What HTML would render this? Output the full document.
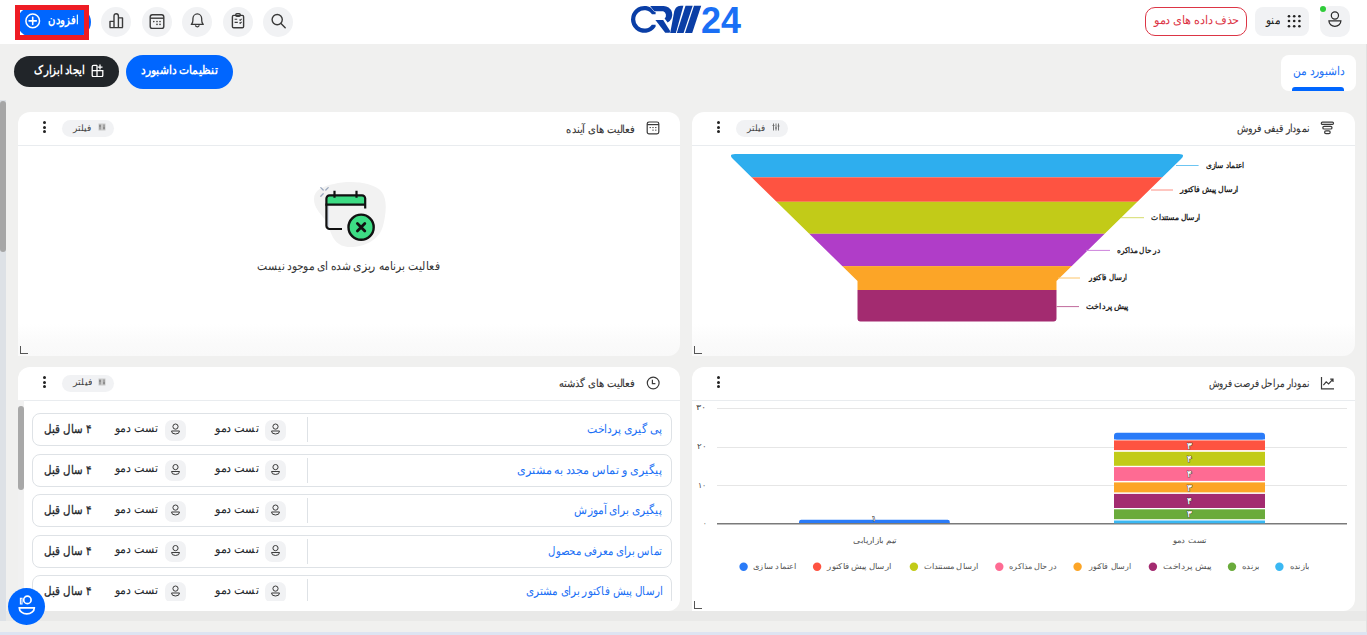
<!DOCTYPE html>
<html lang="fa">
<head>
<meta charset="utf-8">
<style>
*{box-sizing:border-box;margin:0;padding:0}
html,body{width:1367px;height:635px;overflow:hidden}
body{position:relative;background:#f0f0ef;font-family:"Liberation Sans",sans-serif;color:#212529}
.abs{position:absolute}
.t{position:absolute;white-space:nowrap;direction:rtl;line-height:1;transform-origin:100% 50%}
.circ{position:absolute;top:7px;width:30px;height:30px;border-radius:50%;background:#f1f2f4}
.circ svg{position:absolute;left:0;top:0}
.card{position:absolute;background:#fff;border-radius:12px 12px 12px 0}
.hdl{position:absolute;width:8px;height:8px;border-left:1.2px solid #555;border-bottom:1.2px solid #555}
.div{position:absolute;height:1px;background:#e9ecef}
.chip{position:absolute;width:52px;height:17px;border-radius:9px;background:#f1f2f4}
.dots{position:absolute;width:3px;height:11px}
.dots i{position:absolute;left:0;width:3px;height:3px;border-radius:50%;background:#222}
.row{position:absolute;left:32px;width:640px;height:33px;border:1px solid #dee2e6;border-radius:8px;background:#fff}
.av{position:absolute;width:21px;height:21px;border-radius:7px;background:#f1f2f4}
.vd{position:absolute;width:1px;height:25px;background:#dee2e6}
</style>
</head>
<body>
<div class="abs" style="left:0;top:0;width:1367px;height:44px;background:#fff"></div>
<!-- add button -->
<div class="abs" style="left:17px;top:7px;width:74px;height:30px;border-radius:15px;background:#0066ff"></div>
<svg class="abs" style="left:24px;top:12px" width="18" height="18" viewBox="0 0 18 18"><circle cx="8.7" cy="8.9" r="6.8" fill="none" stroke="#fff" stroke-width="1.5"/><path d="M8.7 5.3v7.2M5.1 8.9h7.2" stroke="#fff" stroke-width="1.6" stroke-linecap="round"/></svg>
<div class="abs" style="left:15px;top:5px;width:74px;height:35px;border:5px solid #ee1c24"></div>
<!-- header icon circles -->
<div class="circ" style="left:101px"><svg width="30" height="30" viewBox="0 0 30 30" fill="none" stroke="#3a3a3a" stroke-width="1.4" stroke-linejoin="round"><path d="M9 20.6V14.4h4v6.2M13 20.6V8.9a2.2 2.2 0 0 1 4.4 0V20.6M17.4 20.6V10.9h4.1v9.7M8.6 20.6h13.2"/></svg></div>
<div class="circ" style="left:142px"><svg width="30" height="30" viewBox="0 0 30 30" fill="none" stroke="#3a3a3a" stroke-width="1.4"><rect x="8.2" y="7.8" width="13.6" height="13.6" rx="2.2"/><path d="M8.2 11.2h13.6"/><g fill="#3a3a3a" stroke="none"><circle cx="11.8" cy="14.6" r=".8"/><circle cx="15" cy="14.6" r=".8"/><circle cx="18" cy="14.6" r=".8"/><circle cx="15" cy="17.4" r=".8"/><circle cx="18" cy="17.4" r=".8"/></g></svg></div>
<div class="circ" style="left:182px"><svg width="30" height="30" viewBox="0 0 30 30" fill="none" stroke="#3a3a3a" stroke-width="1.3" stroke-linejoin="round"><path d="M9.3 17.4c1.3-1 1.6-2.4 1.6-4.2v-1.4a4.4 4.9 0 0 1 8.8 0v1.4c0 1.8.3 3.2 1.6 4.2z"/><path d="M13.5 18.3a1.8 1.5 0 0 0 3.6 0"/></svg></div>
<div class="circ" style="left:223px"><svg style="top:-0.8px" width="30" height="30" viewBox="0 0 30 30" fill="none" stroke="#3a3a3a" stroke-width="1.4" stroke-linejoin="round"><rect x="9.4" y="9.4" width="11.2" height="12.4" rx="1.3"/><rect x="12.8" y="7.6" width="4.4" height="2.6" rx="1"/><path d="M11.6 13.3h2.6M11.6 16.4h3.2M16.4 13.6l.8.7 1.4-1.4M16.4 16.6l.8.7 1.4-1.4" stroke-width="1.1"/></svg></div>
<div class="circ" style="left:263px"><svg width="30" height="30" viewBox="0 0 30 30" fill="none" stroke="#3a3a3a" stroke-width="1.4" stroke-linecap="round"><circle cx="14.2" cy="12.6" r="5.1"/><path d="M18 16.4l4.2 4.4"/></svg></div>
<!-- logo -->
<svg class="abs" style="left:620px;top:0" width="130" height="44" viewBox="620 0 130 44">
 <g fill="#0a3ea6" stroke="#fff" stroke-width="1" paint-order="stroke fill">
  <path d="M655.6 12.04A13.4 13.4 0 1 0 655.6 26.76V24.7H651.86A9.15 9.15 0 1 1 651.96 14.25H655.6Z"/>
  <path d="M650.2 6H663A8.7 8.7 0 0 1 667.6 22.4L664.6 18.6A4.4 4.4 0 0 0 663.2 11.3H654.2Z"/>
  <path d="M655.4 20.1H663.2L671.2 32.8H665.2Z"/>
  <path d="M670.2 32.9H675.9L683.4 5.7H680.8C676.5 5.9 675 8.5 674.2 11.6Z"/>
  <path d="M676.8 32.9H683.6L692.7 5.7H685.5Z"/>
  <path d="M685 32.9H692.2L701.2 5.7H694Z"/>
 </g>
 <text x="701" y="32.8" font-family="Liberation Sans" font-weight="bold" font-size="37" fill="#1a6ff5" textLength="40" lengthAdjust="spacingAndGlyphs">24</text>
</svg>
<!-- right header -->
<div class="abs" style="left:1145px;top:7px;width:102px;height:29px;border:1px solid #dc3545;border-radius:10px"></div>
<div class="abs" style="left:1255px;top:7px;width:54px;height:29px;border-radius:8px;background:#f1f2f4"></div>
<svg class="abs" style="left:1287.3px;top:14px" width="16" height="14" viewBox="0 0 16 14" fill="#222"><circle cx="2" cy="2.2" r="1.3"/><circle cx="7.2" cy="2.2" r="1.3"/><circle cx="12.4" cy="2.2" r="1.3"/><circle cx="2" cy="7" r="1.3"/><circle cx="7.2" cy="7" r="1.3"/><circle cx="12.4" cy="7" r="1.3"/><circle cx="2" cy="12.2" r="1.3"/><circle cx="7.2" cy="12.2" r="1.3"/><circle cx="12.4" cy="12.2" r="1.3"/></svg>
<div class="abs" style="left:1320px;top:6px;width:30px;height:31px;border-radius:10px;background:#f1f2f4"></div>
<svg class="abs" style="left:1320px;top:6px" width="30" height="31" viewBox="0 0 30 31" fill="none" stroke="#2a2a2a" stroke-width="1.2"><circle cx="14.9" cy="9.5" r="3.6"/><path d="M8.9 14.8h12a6 5.6 0 0 1-12 0z"/></svg>
<div class="abs" style="left:1320px;top:6px;width:6px;height:6px;border-radius:50%;background:#2fcc3a"></div>
<!-- row 2 -->
<div class="abs" style="left:14px;top:56px;width:105px;height:31px;border-radius:16px;background:#212529"></div>
<svg class="abs" style="left:91px;top:63.5px" width="13" height="13" viewBox="0 0 13 13" fill="none" stroke="#fff" stroke-width="1.3"><path d="M6 1.3H2.6a1.4 1.4 0 0 0-1.4 1.4v8.6a1.4 1.4 0 0 0 1.4 1.4h7.8a1.4 1.4 0 0 0 1.4-1.4V6.6H1.2M6 1.3V12.7"/><path d="M9 0.6v5M6.6 3.1h4.9"/></svg>
<div class="abs" style="left:126px;top:55px;width:107px;height:34px;border-radius:17px;background:#0066ff"></div>
<div class="abs" style="left:1281px;top:55px;width:75px;height:36px;border-radius:8px;background:#fff"></div>
<div class="abs" style="left:1292px;top:87px;width:52px;height:4px;border-radius:3px 3px 0 0;background:#0066ff"></div>
<!-- page scrollbar / bottom strips -->
<div class="abs" style="left:0;top:100px;width:6px;height:521px;background:#dde1e6"></div>
<div class="abs" style="left:0;top:101px;width:6px;height:151px;border-radius:3px;background:#a6a6a6"></div>
<div class="abs" style="left:6px;top:611px;width:1361px;height:10px;background:#e9e9e8"></div>
<div class="abs" style="left:0;top:632px;width:1367px;height:3px;background:#dde4f2"></div>
<div class="abs" style="left:1366px;top:44px;width:1px;height:588px;background:#e2e2e2"></div>

<!-- cards -->
<div class="card" style="left:18px;top:112px;width:662px;height:244px;background:linear-gradient(#fff 212px,#fafafa 232px,#f9f9f9)"></div>
<div class="card" style="left:692px;top:112px;width:663px;height:244px;background:linear-gradient(#fff 212px,#fafafa 232px,#f9f9f9)"></div>
<div class="card" style="left:18px;top:367px;width:662px;height:244px"></div>
<div class="card" style="left:692px;top:367px;width:663px;height:244px"></div>
<div class="div" style="left:18px;top:145px;width:662px"></div>
<div class="div" style="left:692px;top:145px;width:663px"></div>
<div class="div" style="left:18px;top:400px;width:662px"></div>
<div class="div" style="left:692px;top:400px;width:663px"></div>
<div class="hdl" style="left:20px;top:346px"></div>
<div class="hdl" style="left:694px;top:346px"></div>
<div class="hdl" style="left:694px;top:601px"></div>
<!-- card header widgets -->
<div class="dots" style="left:42.5px;top:121px"><i style="top:0"></i><i style="top:4.5px"></i><i style="top:9px"></i></div>
<div class="dots" style="left:716.5px;top:121px"><i style="top:0"></i><i style="top:4.5px"></i><i style="top:9px"></i></div>
<div class="dots" style="left:42.5px;top:376px"><i style="top:0"></i><i style="top:4.5px"></i><i style="top:9px"></i></div>
<div class="dots" style="left:716.5px;top:376px"><i style="top:0"></i><i style="top:4.5px"></i><i style="top:9px"></i></div>
<div class="chip" style="left:62px;top:120px"></div>
<div class="chip" style="left:736px;top:120px"></div>
<div class="chip" style="left:62px;top:375px"></div>
<svg class="abs" style="left:98px;top:123px" width="8" height="8" viewBox="0 0 8 8"><rect x="0.5" y="0.5" width="7" height="7" fill="#c9c9c9"/><path d="M2 1.5v5M6 1.5v5M1 3h2M5 5h2" stroke="#777" stroke-width=".9"/></svg>
<svg class="abs" style="left:98px;top:378px" width="8" height="8" viewBox="0 0 8 8"><rect x="0.5" y="0.5" width="7" height="7" fill="#c9c9c9"/><path d="M2 1.5v5M6 1.5v5M1 3h2M5 5h2" stroke="#777" stroke-width=".9"/></svg>
<svg class="abs" style="left:772px;top:123px" width="8" height="8" viewBox="0 0 8 8"><path d="M1.5 0.5v7M4 0.5v7M6.5 0.5v7M0.5 2.5h2M3 5h2M5.5 3h2" stroke="#666" stroke-width=".9"/></svg>
<!-- card header icons -->
<svg class="abs" style="left:646px;top:121px" width="14" height="14" viewBox="0 0 14 14" fill="none" stroke="#3a3a3a" stroke-width="1.2"><rect x="1.2" y="1" width="11.6" height="11.8" rx="1.8"/><path d="M1.2 3.6h11.6"/><g fill="#3a3a3a" stroke="none"><rect x="3.6" y="6" width="1.2" height="1.1"/><rect x="6.4" y="6" width="1.2" height="1.1"/><rect x="9.2" y="6" width="1.2" height="1.1"/><rect x="6.4" y="8.6" width="1.2" height="1.1"/><rect x="9.2" y="8.6" width="1.2" height="1.1"/></g></svg>
<svg class="abs" style="left:1320px;top:121px" width="15" height="14" viewBox="0 0 15 14" fill="none" stroke="#3a3a3a" stroke-width="1.2"><rect x="1.3" y="1.2" width="12.2" height="2.2" rx="1.1"/><rect x="2.8" y="5.4" width="9.2" height="2.6" rx="1.3"/><rect x="4.6" y="9.8" width="5.6" height="2.8" rx="1.4"/></svg>
<svg class="abs" style="left:646px;top:376px" width="14" height="14" viewBox="0 0 14 14" fill="none" stroke="#3a3a3a" stroke-width="1.2"><circle cx="7.2" cy="7" r="5.9"/><path d="M6.4 3.8v3.9h3"/></svg>
<svg class="abs" style="left:1320px;top:376px" width="15" height="14" viewBox="0 0 15 14" fill="none" stroke="#3a3a3a" stroke-width="1.2"><path d="M1.5 1v11.8h12.5"/><path d="M3.4 9.2l2.8-3.3 2.4 2 4.2-4.6M10.2 3.1h2.8v2.8"/></svg>

<!-- empty state illustration -->
<svg class="abs" style="left:310px;top:180px" width="80" height="72" viewBox="0 0 80 72">
 <path d="M24 4C40 0 62 2 71 11C78 19 76 34 73 46C69 60 55 67 40 67C27 67 22 58 19 47C16 37 4 31 4 19C4 10 13 6 24 4Z" fill="#f2f2f2"/>
 <path d="M19.6 15.4h32.4a3.2 3.2 0 0 1 3.2 3.2v5.6H16.4v-5.6a3.2 3.2 0 0 1 3.2-3.2z" fill="#3ddc84"/>
 <path d="M18 25.5v22.5" stroke="#d5dbe5" stroke-width="2.2"/>
 <path d="M32 49H19.6a3.2 3.2 0 0 1-3.2-3.2V18.6a3.2 3.2 0 0 1 3.2-3.2h32.4a3.2 3.2 0 0 1 3.2 3.2v10" fill="none" stroke="#111" stroke-width="2.2"/>
 <path d="M15.4 24.7H55" stroke="#111" stroke-width="2.2"/>
 <path d="M24.5 10.8v7M46.5 10.8v7" stroke="#111" stroke-width="2.2"/>
 <circle cx="51.1" cy="47.2" r="12.6" fill="#3ddc84" stroke="#111" stroke-width="2.4"/>
 <path d="M47.4 43.5l7.4 7.4M54.8 43.5l-7.4 7.4" stroke="#111" stroke-width="2.8" stroke-linecap="round"/>
 <path d="M10.8 7.6l2.4 2.4M18.2 7.6l-2.4 2.4M10.8 16.2l2.4-2.4" stroke="#9aa7bd" stroke-width="1.3" stroke-linecap="round"/>
</svg>
<!-- funnel -->
<svg class="abs" style="left:0;top:0" width="1367" height="635" viewBox="0 0 1367 635">
 <defs><clipPath id="fc"><path d="M735,154 H1179 Q1186,154 1181,159 L1056.5,281 V318.5 Q1056.5,321.5 1053.5,321.5 H860.5 Q857.5,321.5 857.5,318.5 V281 L733,159 Q728,154 735,154 Z"/></clipPath></defs>
 <g clip-path="url(#fc)">
  <rect x="700" y="150" width="520" height="27.3" fill="#2eaeee"/>
  <rect x="700" y="177.3" width="520" height="24.5" fill="#fe5341"/>
  <rect x="700" y="201.8" width="520" height="32" fill="#c2cb18"/>
  <rect x="700" y="233.8" width="520" height="32.3" fill="#b03dc8"/>
  <rect x="700" y="266.1" width="520" height="23.9" fill="#fca527"/>
  <rect x="700" y="290" width="520" height="35" fill="#a32b70"/>
 </g>
 <g stroke-width="1">
  <path d="M1176 165.5H1198.6" stroke="#6cc5f2"/>
  <path d="M1151 190H1173" stroke="#fd8e82"/>
  <path d="M1121 217.7H1144" stroke="#d6dc6a"/>
  <path d="M1086 250.4H1110" stroke="#cd82dc"/>
  <path d="M1058 278H1080" stroke="#fcc56a"/>
  <path d="M1056.5 306.6H1079" stroke="#c06a9c"/>
 </g>
 <!-- bar chart -->
 <g stroke="#e6e6e6" stroke-width="1">
  <path d="M717 408.5H1347M717 447.5H1347M717 485.5H1347"/>
 </g>
 <path d="M717 523.8H1347" stroke="#7a7a7a" stroke-width="1.5"/>
 <path d="M799 523V522a2.2 2.2 0 0 1 2.2-2.2H947.6a2.2 2.2 0 0 1 2.2 2.2V523Z" fill="#2a7bf8"/>
 <rect x="1114" y="432.8" width="151" height="6.6" rx="3" fill="#2a7bf8"/>
 <rect x="1114" y="436" width="151" height="3.4" fill="#2a7bf8"/>
 <rect x="1114" y="440.4" width="151" height="9.7" fill="#fe5341"/>
 <rect x="1114" y="451.8" width="151" height="14" fill="#c2cb18"/>
 <rect x="1114" y="467.1" width="151" height="13.8" fill="#fe6b93"/>
 <rect x="1114" y="482.4" width="151" height="10" fill="#fca527"/>
 <rect x="1114" y="493.9" width="151" height="14.1" fill="#a32b70"/>
 <rect x="1114" y="509.3" width="151" height="9.9" fill="#6aab3b"/>
 <rect x="1114" y="520.5" width="151" height="2.8" fill="#3ab8f3"/>
 <g font-family="Liberation Sans" font-size="9" font-weight="bold" fill="#fff" stroke="#222" stroke-width="0.8" paint-order="stroke" text-anchor="middle">
  <text x="1189.5" y="448.6">۳</text>
  <text x="1189.5" y="462">۴</text>
  <text x="1189.5" y="477.2">۴</text>
  <text x="1189.5" y="490.6">۳</text>
  <text x="1189.5" y="504.2">۴</text>
  <text x="1189.5" y="517.4">۳</text>
  <text x="874.3" y="521.4" font-size="7" fill="#fff">۱</text>
 </g>
 <g>
  <circle cx="743.6" cy="566.8" r="4.2" fill="#2a7bf8"/>
  <circle cx="817.1" cy="566.8" r="4.2" fill="#fe5341"/>
  <circle cx="913.9" cy="566.8" r="4.2" fill="#c2cb18"/>
  <circle cx="999.3" cy="566.8" r="4.2" fill="#fe6b93"/>
  <circle cx="1077.6" cy="566.8" r="4.2" fill="#fca527"/>
  <circle cx="1152.9" cy="566.8" r="4.2" fill="#a32b70"/>
  <circle cx="1232" cy="566.8" r="4.2" fill="#6aab3b"/>
  <circle cx="1279.4" cy="566.8" r="4.2" fill="#3ab8f3"/>
 </g>
</svg>

<!-- card 3 rows -->
<div class="abs" style="left:18px;top:400px;width:6px;height:201px;background:#f1f1f1"></div>
<div class="abs" style="left:18px;top:406px;width:5.5px;height:84px;border-radius:3px;background:#a8a8a8"></div>
<div class="abs" style="left:18px;top:401px;width:662px;height:200px;overflow:hidden">
 <div class="row" style="left:14px;top:12px"><div class="vd" style="left:273.5px;top:3px"></div><div class="av" style="left:232px;top:5.5px"></div><div class="av" style="left:132px;top:5.5px"></div></div>
 <div class="row" style="left:14px;top:52.5px"><div class="vd" style="left:273.5px;top:3px"></div><div class="av" style="left:232px;top:5.5px"></div><div class="av" style="left:132px;top:5.5px"></div></div>
 <div class="row" style="left:14px;top:93px"><div class="vd" style="left:273.5px;top:3px"></div><div class="av" style="left:232px;top:5.5px"></div><div class="av" style="left:132px;top:5.5px"></div></div>
 <div class="row" style="left:14px;top:133.5px"><div class="vd" style="left:273.5px;top:3px"></div><div class="av" style="left:232px;top:5.5px"></div><div class="av" style="left:132px;top:5.5px"></div></div>
 <div class="row" style="left:14px;top:174px"><div class="vd" style="left:273.5px;top:3px"></div><div class="av" style="left:232px;top:5.5px"></div><div class="av" style="left:132px;top:5.5px"></div></div>
</div>
<svg class="abs" style="left:0;top:0" width="1367" height="635" viewBox="0 0 1367 635" fill="none" stroke="#3a3a3a" stroke-width="1">
 <defs><g id="pi"><circle cx="0" cy="-3.2" r="2.6"/><path d="M-4 1.2h8a4 3 0 0 1-8 0z"/></g></defs>
 <clipPath id="rc"><rect x="18" y="401" width="662" height="200"/></clipPath>
 <g clip-path="url(#rc)">
  <use href="#pi" x="275.5" y="429.8"/><use href="#pi" x="175.5" y="429.8"/>
  <use href="#pi" x="275.5" y="470.3"/><use href="#pi" x="175.5" y="470.3"/>
  <use href="#pi" x="275.5" y="510.8"/><use href="#pi" x="175.5" y="510.8"/>
  <use href="#pi" x="275.5" y="551.3"/><use href="#pi" x="175.5" y="551.3"/>
  <use href="#pi" x="275.5" y="591.8"/><use href="#pi" x="175.5" y="591.8"/>
 </g>
</svg>
<div class="t" id="t0" style="right:1289.00px;top:14.10px;font-size:12px;font-weight:bold;color:#fff;transform:scaleX(0.8333);">افزودن</div>
<div class="t" id="t1" style="right:128.00px;top:14.10px;font-size:12px;font-weight:normal;color:#dc3545;transform:scaleX(0.9443);">حذف داده های دمو</div>
<div class="t" id="t2" style="right:87.50px;top:13.60px;font-size:12px;font-weight:normal;color:#222;transform:scaleX(0.8812);">منو</div>
<div class="t" id="t3" style="right:1283.00px;top:64.10px;font-size:12px;font-weight:bold;color:#fff;transform:scaleX(0.8425);">ایجاد ابزارک</div>
<div class="t" id="t4" style="right:1150.00px;top:63.90px;font-size:12px;font-weight:bold;color:#fff;transform:scaleX(0.8905);">تنظیمات داشبورد</div>
<div class="t" id="t5" style="right:23.00px;top:65.10px;font-size:12px;font-weight:normal;color:#1a6ff5;transform:scaleX(0.8894);">داشبورد من</div>
<div class="t" id="t6" style="right:733.00px;top:123.50px;font-size:11px;font-weight:normal;color:#333;transform:scaleX(0.9052);-webkit-text-stroke:0.12px #333;">فعالیت های آینده</div>
<div class="t" id="t7" style="right:1276.00px;top:123.60px;font-size:9px;font-weight:normal;color:#444;transform:scaleX(1.0000);">فیلتر</div>
<div class="t" id="t8" style="right:58.00px;top:123.30px;font-size:11px;font-weight:normal;color:#333;transform:scaleX(0.8418);-webkit-text-stroke:0.12px #333;">نمودار قیفی فروش</div>
<div class="t" id="t9" style="right:602.00px;top:123.60px;font-size:9px;font-weight:normal;color:#444;transform:scaleX(0.9778);">فیلتر</div>
<div class="t" id="t10" style="right:732.50px;top:378.00px;font-size:11px;font-weight:normal;color:#333;transform:scaleX(0.9083);-webkit-text-stroke:0.12px #333;">فعالیت های گذشته</div>
<div class="t" id="t11" style="right:1275.20px;top:377.60px;font-size:9px;font-weight:normal;color:#444;transform:scaleX(1.0556);">فیلتر</div>
<div class="t" id="t12" style="right:58.00px;top:378.10px;font-size:11px;font-weight:normal;color:#333;transform:scaleX(0.7863);-webkit-text-stroke:0.12px #333;">نمودار مراحل فرصت فروش</div>
<div class="t" id="t13" style="right:927.00px;top:259.60px;font-size:12px;font-weight:normal;color:#333;transform:scaleX(0.8950);">فعالیت برنامه ریزی شده ای موجود نیست</div>
<div class="t" id="t14" style="right:123.00px;top:161.70px;font-size:8px;font-weight:bold;color:#222;transform:scaleX(0.9216);">اعتماد سازی</div>
<div class="t" id="t15" style="right:129.00px;top:186.20px;font-size:8px;font-weight:bold;color:#222;transform:scaleX(0.9756);">ارسال پیش فاکتور</div>
<div class="t" id="t16" style="right:167.00px;top:214.20px;font-size:8px;font-weight:bold;color:#222;transform:scaleX(0.9381);">ارسال مستندات</div>
<div class="t" id="t17" style="right:207.00px;top:246.70px;font-size:8px;font-weight:bold;color:#222;transform:scaleX(0.9062);">در حال مذاکره</div>
<div class="t" id="t18" style="right:240.00px;top:274.20px;font-size:8px;font-weight:bold;color:#222;transform:scaleX(0.8789);">ارسال فاکتور</div>
<div class="t" id="t19" style="right:239.00px;top:302.70px;font-size:8px;font-weight:bold;color:#222;transform:scaleX(1.0186);">پیش پرداخت</div>
<div class="t" id="t20" style="right:705.00px;top:423.10px;font-size:12px;font-weight:normal;color:#1a6ff5;transform:scaleX(0.8987);">پی گیری پرداخت</div>
<div class="t" id="t21" style="right:1109.00px;top:421.80px;font-size:12px;font-weight:normal;color:#212529;transform:scaleX(0.9278);">تست دمو</div>
<div class="t" id="t22" style="right:1209.80px;top:421.80px;font-size:12px;font-weight:normal;color:#212529;transform:scaleX(0.9149);">تست دمو</div>
<div class="t" id="t23" style="right:1276.70px;top:423.10px;font-size:12px;font-weight:normal;color:#212529;transform:scaleX(0.8560);-webkit-text-stroke:0.3px #212529;">۴ سال قبل</div>
<div class="t" id="t24" style="right:705.00px;top:463.60px;font-size:12px;font-weight:normal;color:#1a6ff5;transform:scaleX(0.9217);">پیگیری و تماس مجدد به مشتری</div>
<div class="t" id="t25" style="right:1109.00px;top:462.30px;font-size:12px;font-weight:normal;color:#212529;transform:scaleX(0.9278);">تست دمو</div>
<div class="t" id="t26" style="right:1209.80px;top:462.30px;font-size:12px;font-weight:normal;color:#212529;transform:scaleX(0.9149);">تست دمو</div>
<div class="t" id="t27" style="right:1276.70px;top:463.60px;font-size:12px;font-weight:normal;color:#212529;transform:scaleX(0.8560);-webkit-text-stroke:0.3px #212529;">۴ سال قبل</div>
<div class="t" id="t28" style="right:705.00px;top:504.10px;font-size:12px;font-weight:normal;color:#1a6ff5;transform:scaleX(0.8848);">پیگیری برای آموزش</div>
<div class="t" id="t29" style="right:1109.00px;top:502.80px;font-size:12px;font-weight:normal;color:#212529;transform:scaleX(0.9278);">تست دمو</div>
<div class="t" id="t30" style="right:1209.80px;top:502.80px;font-size:12px;font-weight:normal;color:#212529;transform:scaleX(0.9149);">تست دمو</div>
<div class="t" id="t31" style="right:1276.70px;top:504.10px;font-size:12px;font-weight:normal;color:#212529;transform:scaleX(0.8560);-webkit-text-stroke:0.3px #212529;">۴ سال قبل</div>
<div class="t" id="t32" style="right:705.00px;top:544.60px;font-size:12px;font-weight:normal;color:#1a6ff5;transform:scaleX(0.8451);">تماس برای معرفی محصول</div>
<div class="t" id="t33" style="right:1109.00px;top:543.30px;font-size:12px;font-weight:normal;color:#212529;transform:scaleX(0.9278);">تست دمو</div>
<div class="t" id="t34" style="right:1209.80px;top:543.30px;font-size:12px;font-weight:normal;color:#212529;transform:scaleX(0.9149);">تست دمو</div>
<div class="t" id="t35" style="right:1276.70px;top:544.60px;font-size:12px;font-weight:normal;color:#212529;transform:scaleX(0.8560);-webkit-text-stroke:0.3px #212529;">۴ سال قبل</div>
<div class="t" id="t36" style="right:705.00px;top:585.10px;font-size:12px;font-weight:normal;color:#1a6ff5;transform:scaleX(0.8627);">ارسال پیش فاکتور برای مشتری</div>
<div class="t" id="t37" style="right:1109.00px;top:583.80px;font-size:12px;font-weight:normal;color:#212529;transform:scaleX(0.9278);">تست دمو</div>
<div class="t" id="t38" style="right:1209.80px;top:583.80px;font-size:12px;font-weight:normal;color:#212529;transform:scaleX(0.9149);">تست دمو</div>
<div class="t" id="t39" style="right:1276.70px;top:585.10px;font-size:12px;font-weight:normal;color:#212529;transform:scaleX(0.8560);-webkit-text-stroke:0.3px #212529;">۴ سال قبل</div>
<div class="t" id="t40" style="right:661.30px;top:404.40px;font-size:8px;font-weight:normal;color:#444;transform:scaleX(1.2125);">۳۰</div>
<div class="t" id="t41" style="right:661.30px;top:443.20px;font-size:8px;font-weight:normal;color:#444;transform:scaleX(1.0875);">۲۰</div>
<div class="t" id="t42" style="right:661.30px;top:481.60px;font-size:8px;font-weight:normal;color:#444;transform:scaleX(0.9625);">۱۰</div>
<div class="t" id="t43" style="right:661.30px;top:519.70px;font-size:8px;font-weight:normal;color:#444;transform:scaleX(0.8500);">۰</div>
<div class="t" id="t44" style="right:471.00px;top:536.70px;font-size:8px;font-weight:normal;color:#555;transform:scaleX(1.1246);">تیم بازاریابی</div>
<div class="t" id="t45" style="right:161.00px;top:536.70px;font-size:8px;font-weight:normal;color:#555;transform:scaleX(1.0725);">تست دمو</div>
<div class="t" id="t46" style="right:571.00px;top:563.20px;font-size:8px;font-weight:normal;color:#555;transform:scaleX(1.0428);">اعتماد سازی</div>
<div class="t" id="t47" style="right:476.00px;top:563.20px;font-size:8px;font-weight:normal;color:#555;transform:scaleX(1.0765);">ارسال پیش فاکتور</div>
<div class="t" id="t48" style="right:389.00px;top:563.20px;font-size:8px;font-weight:normal;color:#555;transform:scaleX(1.0434);">ارسال مستندات</div>
<div class="t" id="t49" style="right:310.00px;top:563.20px;font-size:8px;font-weight:normal;color:#555;transform:scaleX(1.0115);">در حال مذاکره</div>
<div class="t" id="t50" style="right:236.00px;top:563.20px;font-size:8px;font-weight:normal;color:#555;transform:scaleX(0.9853);">ارسال فاکتور</div>
<div class="t" id="t51" style="right:156.00px;top:563.20px;font-size:8px;font-weight:normal;color:#555;transform:scaleX(1.1641);">پیش پرداخت</div>
<div class="t" id="t52" style="right:108.00px;top:563.20px;font-size:8px;font-weight:normal;color:#555;transform:scaleX(1.0625);">برنده</div>
<div class="t" id="t53" style="right:58.00px;top:563.20px;font-size:8px;font-weight:normal;color:#555;transform:scaleX(1.0556);">بازنده</div>
<!-- floating support button -->
<div class="abs" style="left:8px;top:587.5px;width:37px;height:37px;border-radius:50%;background:#0066ff"></div>
<svg class="abs" style="left:8px;top:587.5px" width="37" height="37" viewBox="0 0 37 37" fill="none" stroke="#fff" stroke-width="1.7"><circle cx="19.4" cy="11.9" r="3.7"/><path d="M11.3 19.9h15a7.5 5.9 0 0 1-15 0z"/><path d="M12.4 10.2h1.6v5.8h-1.6z" stroke-width="1.1"/></svg>
<script>(function(){var W=[30.0,85.0,14.1,50.0,76.0,51.0,68.0,18.0,72.5,17.6,75.5,19.0,100.0,182.6,38.0,58.0,49.0,43.0,38.0,42.0,74.3,43.0,42.4,46.8,144.4,43.0,42.4,46.8,87.3,43.0,42.4,46.8,114.1,43.0,42.4,46.8,136.6,43.0,42.4,46.8,9.7,8.7,7.7,3.4,43.0,33.5,43.0,64.0,54.5,48.0,42.6,48.0,17.0,19.0];var e=document.querySelectorAll(".t");for(var i=0;i<e.length&&i<W.length;i++){var s=e[i].style.transform;e[i].style.transform="none";var w=e[i].getBoundingClientRect().width;e[i].style.transform=(w>0)?"scaleX("+(W[i]/w)+")":s;}})();</script>
</body>
</html>
